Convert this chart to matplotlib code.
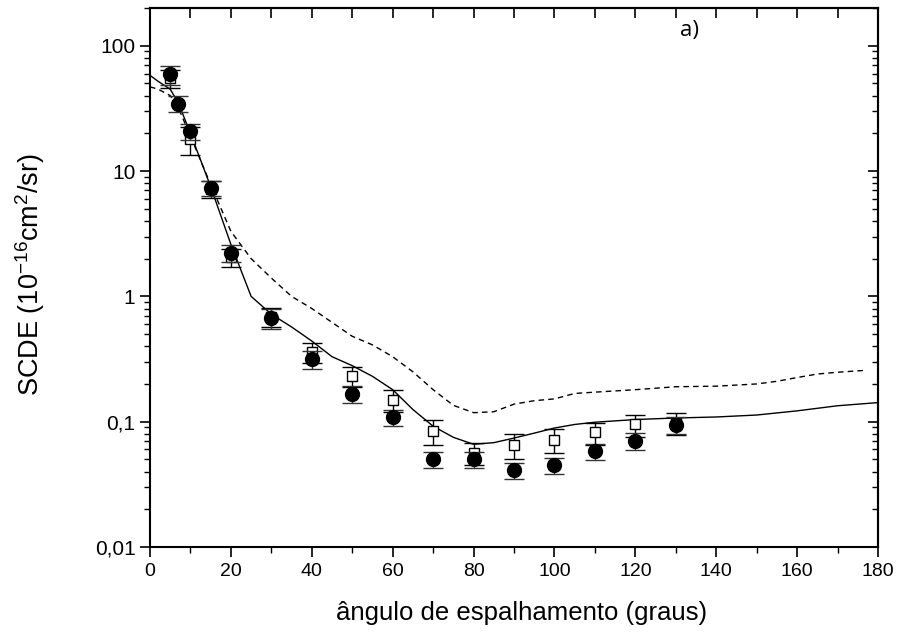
import matplotlib
matplotlib.use("Agg")
import matplotlib.pyplot as plt
from matplotlib.ticker import FixedLocator, LogLocator, FuncFormatter, NullFormatter

plt.rcParams["font.family"] = ["Liberation Sans", "DejaVu Sans"]
plt.rcParams["mathtext.fontset"] = "custom"
plt.rcParams["mathtext.rm"] = "Liberation Sans"
plt.rcParams["mathtext.it"] = "Liberation Sans"
plt.rcParams["mathtext.default"] = "regular"

# experimental data
ang_circ = [5, 7, 10, 15, 20, 30, 40, 50, 60, 70, 80, 90, 100, 110, 120, 130]
scde_circ = [59, 34.5, 20.7, 7.3, 2.22, 0.67, 0.314, 0.167, 0.108, 0.050, 0.050, 0.041, 0.045, 0.058, 0.070, 0.094]
relerr_circ = [0.17, 0.15, 0.14, 0.14, 0.16, 0.18, 0.16, 0.16, 0.15, 0.15, 0.15, 0.15, 0.15, 0.15, 0.15, 0.15]

ang_sq = [5, 10, 15, 20, 30, 40, 50, 60, 70, 80, 90, 100, 110, 120, 130]
scde_sq = [55, 17.9, 7.2, 2.05, 0.69, 0.357, 0.23, 0.15, 0.084, 0.056, 0.065, 0.072, 0.082, 0.095, 0.097]
relerr_sq = [0.17, 0.25, 0.16, 0.16, 0.18, 0.18, 0.18, 0.2, 0.22, 0.2, 0.22, 0.22, 0.2, 0.2, 0.2]

# theory curves
ang_solid = [0, 2, 5, 7, 10, 15, 20, 25, 30, 35, 40, 45, 50, 55, 60, 65, 70, 75, 80, 85, 90,
             95, 100, 105, 110, 120, 130, 140, 150, 160, 170, 180]
scde_solid = [58, 52, 45, 35, 20, 7.5, 2.6, 1.0, 0.72, 0.57, 0.44, 0.33, 0.28, 0.23, 0.18, 0.125, 0.092,
              0.075, 0.066, 0.068, 0.074, 0.081, 0.089, 0.095, 0.099, 0.104, 0.107, 0.109, 0.113, 0.122, 0.134, 0.142]

ang_dash = [0, 2, 5, 7, 10, 15, 20, 25, 30, 35, 40, 45, 50, 55, 60, 65, 70, 75, 80, 85, 90,
            95, 100, 105, 110, 120, 130, 140, 150, 155, 160, 165, 170, 177]
scde_dash = [47, 45, 40, 32, 19, 7.8, 3.3, 2.0, 1.4, 1.0, 0.80, 0.62, 0.48, 0.41, 0.33, 0.25, 0.18,
             0.135, 0.118, 0.12, 0.138, 0.147, 0.152, 0.168, 0.172, 0.180, 0.190, 0.192, 0.20, 0.21,
             0.225, 0.24, 0.248, 0.257]

ytick_vals = [0.01, 0.1, 1, 10, 100]
ytick_text = ["0,01", "0,1", "1", "10", "100"]

fig = plt.figure(figsize=(9.08, 6.35), dpi=100)
ax = fig.add_axes([0.1652, 0.1386, 0.967 - 0.1652, 0.9874 - 0.1386])

ax.plot(ang_solid, scde_solid, color="black", lw=1.0)
ax.plot(ang_dash, scde_dash, color="black", lw=1.0, dashes=(4, 3))

err_c = [v * r for v, r in zip(scde_circ, relerr_circ)]
err_s = [v * r for v, r in zip(scde_sq, relerr_sq)]
ax.errorbar(ang_sq, scde_sq, yerr=err_s, fmt="s", ms=7, mfc="white", mec="black", mew=1.0,
            ecolor="black", elinewidth=1.0, capsize=7.5, capthick=1.0, zorder=3)
ax.errorbar(ang_circ, scde_circ, yerr=err_c, fmt="o", ms=10, mfc="black", mec="black",
            ecolor="#333333", elinewidth=1.0, capsize=7.5, capthick=1.0, zorder=4)

ax.set_yscale("log")
ax.set_xlim(0, 180)
ax.set_ylim(0.01, 200)

ax.xaxis.set_major_locator(FixedLocator(range(0, 181, 20)))
ax.xaxis.set_minor_locator(FixedLocator(range(10, 180, 20)))
ax.yaxis.set_major_locator(FixedLocator(ytick_vals))
ax.yaxis.set_minor_locator(LogLocator(base=10, subs=range(2, 10)))
ax.yaxis.set_minor_formatter(NullFormatter())
ax.yaxis.set_major_formatter(FuncFormatter(lambda v, p: ytick_text[p] if p is not None and p < len(ytick_text) else ""))

ax.tick_params(axis="both", which="major", direction="out", length=7.5, width=1.2)
ax.tick_params(axis="both", which="minor", direction="out", length=4, width=1.0)
ax.tick_params(axis="x", labelsize=14, pad=4)
ax.tick_params(axis="y", labelsize=15, pad=3)

# inward ticks on top and right
axt = ax.secondary_xaxis("top")
axt.xaxis.set_major_locator(FixedLocator(range(0, 181, 10)))
axt.tick_params(which="major", direction="in", length=7, width=1.2, labeltop=False)
axr = ax.secondary_yaxis("right")
axr.yaxis.set_major_locator(FixedLocator(ytick_vals))
axr.yaxis.set_minor_locator(LogLocator(base=10, subs=range(2, 10)))
axr.tick_params(which="major", direction="in", length=7.5, width=1.2, labelright=False)
axr.tick_params(which="minor", direction="in", length=4, width=1.0)
axr.yaxis.set_minor_formatter(NullFormatter())

for a in (ax, axt, axr):
    for sp in a.spines.values():
        sp.set_linewidth(1.5)

ax.set_xlabel("ângulo de espalhamento (graus)", fontsize=18.5)
ax.xaxis.set_label_coords(0.51, -0.1)
ax.set_ylabel("SCDE (10$^{-16}$cm$^{2}$/sr)", fontsize=19.5)
ax.yaxis.set_label_coords(-0.142, 0.505)
ax.text(0.741, 0.959, "a)", transform=ax.transAxes, fontfamily="Open Sans", fontsize=16,
        ha="center", va="center")

fig.savefig("out.png", dpi=100)
